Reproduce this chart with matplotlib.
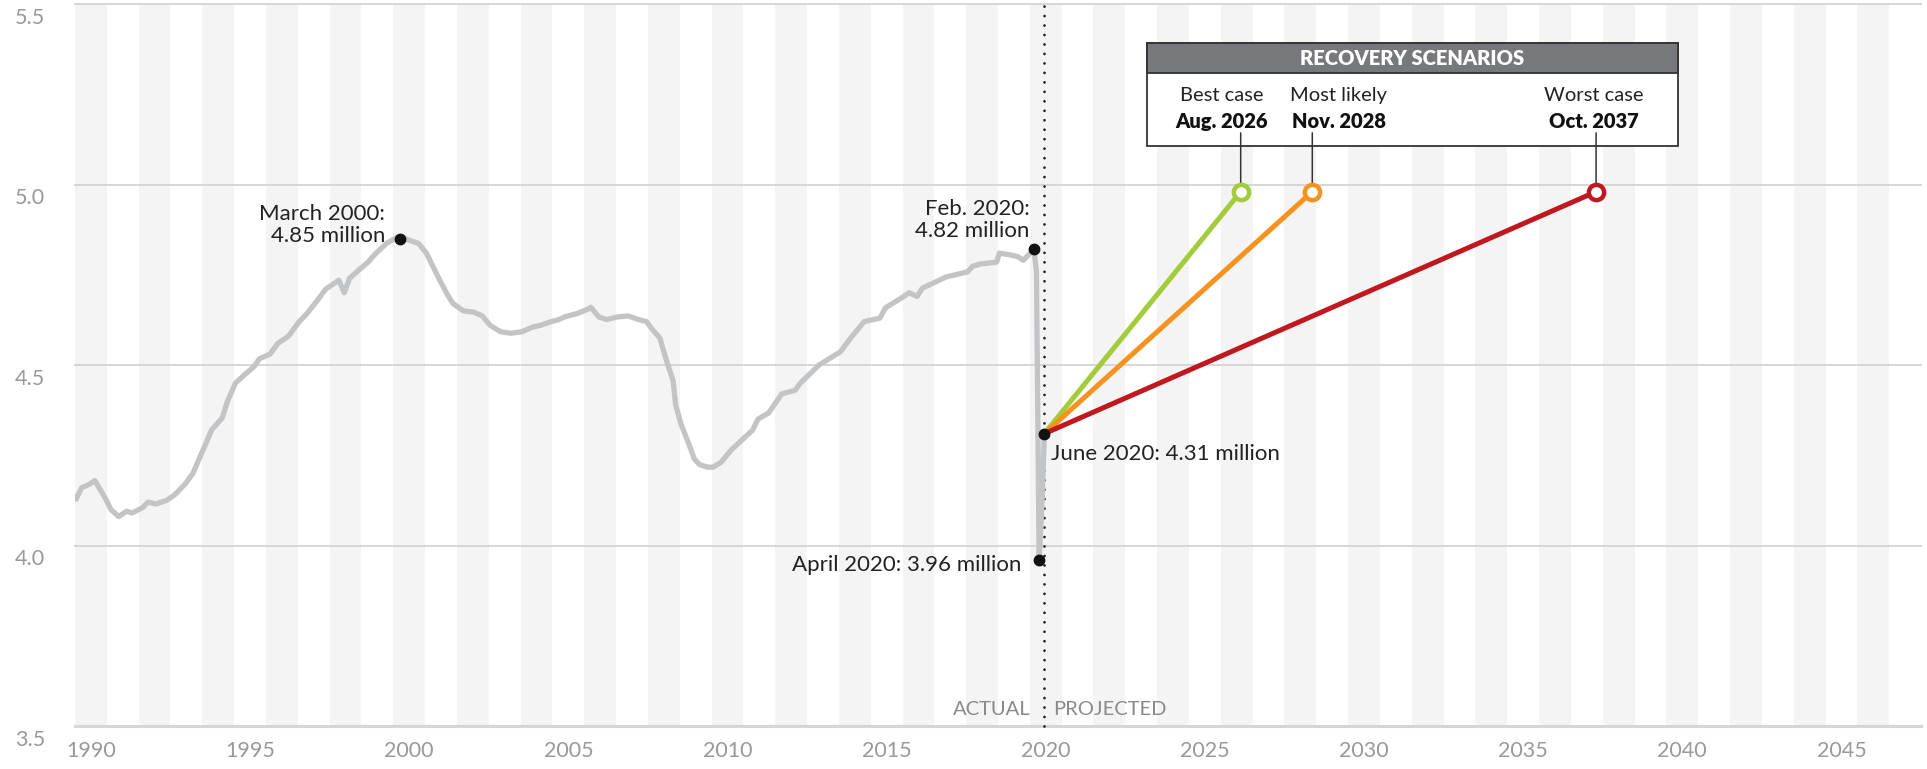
import matplotlib
matplotlib.use("Agg")
import matplotlib.pyplot as plt
from matplotlib.patches import Rectangle

plt.rcParams['font.family'] = ['Lato', 'DejaVu Sans']

# employment, millions
months = ["1990-01", "1990-03", "1990-06", "1990-08", "1990-12", "1991-02", "1991-05", "1991-08",
          "1991-10", "1992-02", "1992-04", "1992-07", "1992-11", "1993-02", "1993-06", "1993-09",
          "1993-11", "1994-02", "1994-04", "1994-08", "1994-10", "1995-01", "1995-04", "1995-08",
          "1995-10", "1996-02", "1996-05", "1996-09", "1997-01", "1997-04", "1997-08", "1997-11",
          "1998-01", "1998-04", "1998-06", "1998-08", "1998-11", "1999-03", "1999-06", "1999-10",
          "2000-01", "2000-03", "2000-06", "2000-10", "2001-01", "2001-03", "2001-06", "2001-09",
          "2001-11", "2002-03", "2002-07", "2002-10", "2003-01", "2003-05", "2003-09", "2004-01",
          "2004-05", "2004-08", "2004-12", "2005-03", "2005-05", "2005-10", "2006-02", "2006-03",
          "2006-06", "2006-09", "2007-01", "2007-05", "2007-09", "2007-12", "2008-02", "2008-05",
          "2008-07", "2008-10", "2008-11", "2009-01", "2009-04", "2009-06", "2009-08", "2009-11",
          "2010-01", "2010-04", "2010-08", "2011-04", "2011-06", "2011-10", "2012-03", "2012-08",
          "2012-10", "2013-05", "2014-01", "2014-05", "2014-10", "2015-04", "2015-06", "2016-01",
          "2016-03", "2016-06", "2016-08", "2017-05", "2018-01", "2018-03", "2018-06", "2018-12",
          "2019-01", "2019-05", "2019-08", "2019-10", "2020-02", "2020-03", "2020-04", "2020-05",
          "2020-06"]
values = [4.13, 4.16, 4.17, 4.18, 4.13, 4.10, 4.08, 4.095,
          4.09, 4.105, 4.12, 4.115, 4.125, 4.14, 4.17, 4.20,
          4.235, 4.285, 4.32, 4.353, 4.40, 4.45, 4.47, 4.496,
          4.517, 4.53, 4.56, 4.58, 4.62, 4.643, 4.68, 4.71,
          4.72, 4.735, 4.70, 4.74, 4.76, 4.785, 4.81, 4.837,
          4.85, 4.855, 4.847, 4.837, 4.81, 4.78, 4.735, 4.694,
          4.67, 4.65, 4.646, 4.636, 4.61, 4.592, 4.588, 4.592,
          4.605, 4.61, 4.62, 4.626, 4.633, 4.643, 4.655, 4.66,
          4.633, 4.626, 4.633, 4.636, 4.626, 4.62, 4.60, 4.575,
          4.524, 4.456, 4.388, 4.336, 4.28, 4.24, 4.224, 4.217,
          4.217, 4.23, 4.265, 4.32, 4.35, 4.367, 4.42, 4.43,
          4.45, 4.50, 4.536, 4.575, 4.62, 4.63, 4.658, 4.69,
          4.70, 4.69, 4.713, 4.744, 4.758, 4.774, 4.78, 4.785,
          4.81, 4.805, 4.80, 4.79, 4.82, 4.76, 3.96, 4.10,
          4.31]

# labelled points
marks = ["2000-03", "2020-02", "2020-04", "2020-06"]
mark_values = [4.85, 4.82, 3.96, 4.31]

# recovery scenarios
scen_names = ["Best case", "Most likely", "Worst case"]
scen_dates = ["Aug. 2026", "Nov. 2028", "Oct. 2037"]
scen_months = ["2026-08", "2028-11", "2037-10"]
scen_target = 4.98
scen_colors = ["#a2cc3a", "#f6921e", "#c1181f"]

yticks = [3.5, 4.0, 4.5, 5.0, 5.5]
xtick_years = list(range(1990, 2050, 5))


def dec(m):
    y, mo = m.split("-")
    return int(y) + (int(mo) - 0.5) / 12


xs = [dec(m) for m in months]
mark_x = [dec(m) for m in marks]
scen_x = [dec(m) for m in scen_months]
start_x, start_v = dec("2020-06"), 4.31

W, H = 1927, 769
fig = plt.figure(figsize=(W / 100, H / 100), dpi=100)
ax = fig.add_axes([75 / W, 1 - 726 / H, (1921 - 75) / W, (726 - 4) / H])
ax.set_xlim(1990, 2048)
ax.set_ylim(3.5, 5.5)
for s in ax.spines.values():
    s.set_visible(False)

# year stripes
for y in range(1990, 2048, 2):
    ax.axvspan(y, y + 1, color="#f4f4f4", lw=0, zorder=0)
for v in yticks:
    ax.axhline(v, color="#d6d6d6", lw=2.2 if v == 3.5 else 1.4, zorder=1, clip_on=False)

tick_col = "#999999"
ax.set_yticks([])
ax.set_xticks([y + 0.5 for y in xtick_years])
ax.set_xticklabels([str(y) for y in xtick_years], fontsize=15.5, color=tick_col)
ax.tick_params(axis="x", length=0, pad=11)
for v in yticks:
    ax.annotate("%.1f" % v, xy=(0, v), xycoords=("axes fraction", "data"),
                xytext=(-21.5, -10), textcoords="offset points", ha="right", va="center",
                fontsize=15.5, color=tick_col, annotation_clip=False)

# actual / projected divider
ax.axvline(start_x, ymin=0, ymax=1.01, color="#222222", lw=2.0,
           linestyle=(0, (0.01, 3.4)), dash_capstyle="round", zorder=3, clip_on=False)
ax.annotate("ACTUAL", xy=(start_x, 3.5), xytext=(-10, 8), textcoords="offset points",
            ha="right", va="baseline", fontsize=14.5, color="#8a8a8a")
ax.annotate("PROJECTED", xy=(start_x, 3.5), xytext=(6.5, 8), textcoords="offset points",
            ha="left", va="baseline", fontsize=14.5, color="#8a8a8a")

ax.plot(xs, values, color="#c3c4c6", lw=3.8, solid_joinstyle="round", zorder=4)

for x, c in zip(scen_x, scen_colors):
    ax.plot([start_x, x], [start_v, scen_target], color=c, lw=3.6, zorder=5,
            solid_capstyle="butt")

# leader lines from the box
for x in scen_x:
    ax.annotate("", xy=(x, scen_target), xycoords="data", xytext=(x, 0.8215),
                textcoords=("data", "axes fraction"),
                arrowprops=dict(arrowstyle="-", color="#333333", lw=1.1,
                                shrinkA=0, shrinkB=0), zorder=11)
for x, c in zip(scen_x, scen_colors):
    ax.plot([x], [scen_target], marker="o", ms=11, mfc="white", mec=c, mew=3.2, zorder=12)

ax.plot(mark_x, mark_values, "o", color="#111111", ms=7.5, zorder=8)

ann = dict(fontsize=16, color="#222222", textcoords="offset points", linespacing=1.12)
ax.annotate("March 2000:\n4.85 million", xy=(mark_x[0], mark_values[0]), xytext=(-10.5, -5),
            ha="right", va="bottom", **ann)
ax.annotate("Feb. 2020:\n4.82 million", xy=(mark_x[1], mark_values[1]), xytext=(-3, 6),
            ha="right", va="bottom", **ann)
ax.annotate("April 2020: 3.96 million", xy=(mark_x[2], mark_values[2]), xytext=(-13, -4),
            ha="right", va="center", **ann)
ax.annotate("June 2020: 4.31 million", xy=(mark_x[3], mark_values[3]), xytext=(4.5, -15),
            ha="left", va="center", **ann)

# scenarios box
bx0, bx1 = 0.5807, 0.8684
by0, byh, by1 = 0.8033, 0.9044, 0.946
ax.add_patch(Rectangle((bx0, by0), bx1 - bx0, by1 - by0, transform=ax.transAxes,
                       facecolor="white", edgecolor="#333333", lw=1.3, zorder=9, clip_on=False))
ax.add_patch(Rectangle((bx0, byh), bx1 - bx0, by1 - byh, transform=ax.transAxes,
                       facecolor="#77787b", edgecolor="#333333", lw=1.3, zorder=9, clip_on=False))
ax.text((bx0 + bx1) / 2, (byh + by1) / 2, "RECOVERY SCENARIOS", transform=ax.transAxes,
        ha="center", va="center", fontsize=14.5, fontweight="heavy", color="white", zorder=10)
label_x = [0.6213, 0.6847, 0.8229]
for lx, n, d in zip(label_x, scen_names, scen_dates):
    ax.text(lx, 0.8726, n, transform=ax.transAxes, ha="center", va="center",
            fontsize=14.5, color="#222222", zorder=10)
    ax.text(lx, 0.8366, d, transform=ax.transAxes, ha="center", va="center",
            fontsize=14.5, fontweight="heavy", color="#111111", zorder=10)

fig.savefig("out.png", dpi=100)
